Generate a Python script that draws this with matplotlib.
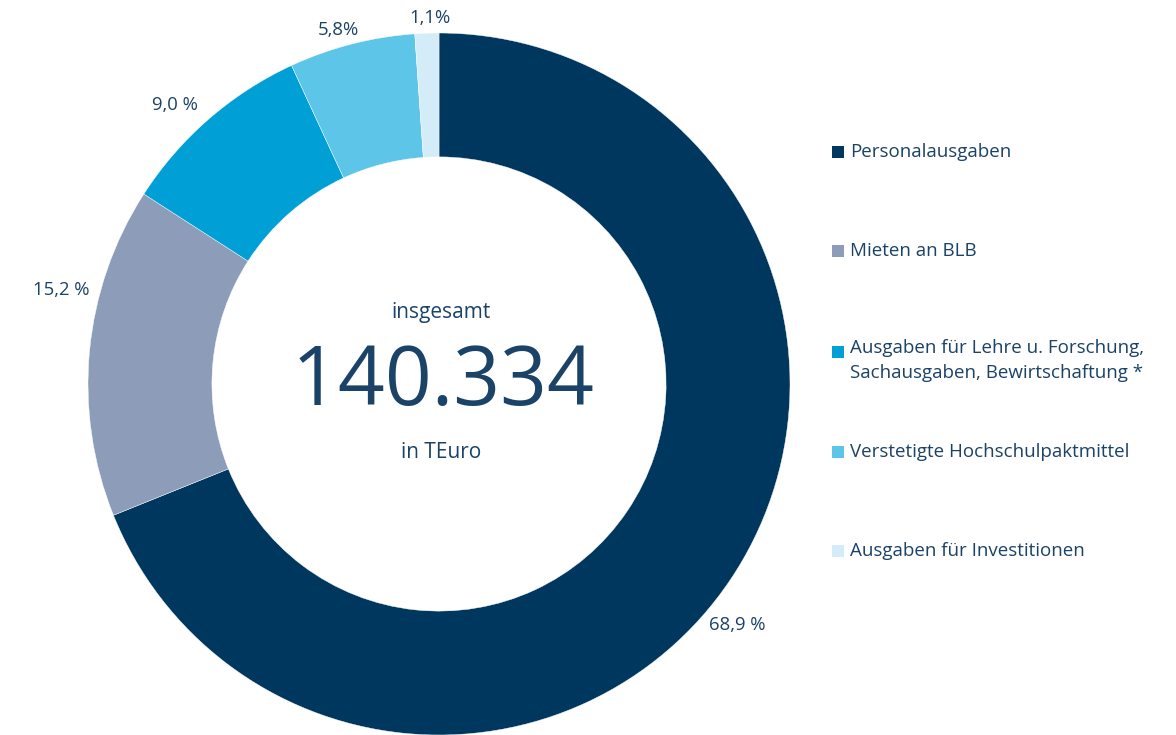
import matplotlib.pyplot as plt
from matplotlib.patches import Rectangle

categories = ['Personalausgaben', 'Mieten an BLB',
              'Ausgaben für Lehre u. Forschung,\nSachausgaben, Bewirtschaftung *',
              'Verstetigte Hochschulpaktmittel', 'Ausgaben für Investitionen']
shares = [68.9, 15.2, 9.0, 5.8, 1.1]
pct_labels = ['68,9 %', '15,2 %', '9,0 %', '5,8%', '1,1%']
colors = ['#00375e', '#8d9cb8', '#009fd6', '#5cc5e8', '#d4ebf8']
total_label = '140.334'

text_col = '#1b4267'
plt.rcParams['font.family'] = ['Open Sans', 'DejaVu Sans']

W, H = 1176, 735
fig = plt.figure(figsize=(W / 100, H / 100), dpi=100)
ax = fig.add_axes([0, 0, 1, 1])

# donut in pixel coordinates (y up)
cx, cy, r = 439, H - 384, 351
wedges, _ = ax.pie(shares, colors=colors, startangle=90, counterclock=False,
                   center=(cx, cy), radius=r,
                   wedgeprops=dict(width=r * 0.353, edgecolor='white', linewidth=0.3))
ax.set_xlim(0, W)
ax.set_ylim(0, H)
ax.set_aspect('equal')
ax.axis('off')

# percentage labels (hand placed like the original)
label_pos = [(737, 625), (61, 290), (175, 105), (338, 30), (430, 18)]
for txt, (x, y) in zip(pct_labels, label_pos):
    ax.text(x, H - y, txt, ha='center', va='center', fontsize=13.3, color=text_col)

# centre text
ax.text(cx + 2, H - 312, 'insgesamt', ha='center', va='center', fontsize=15, color=text_col)
ax.text(cx + 4, H - 384, total_label, ha='center', va='center', fontsize=59, color=text_col)
ax.text(cx + 2, H - 452, 'in TEuro', ha='center', va='center', fontsize=15, color=text_col)

# legend
leg_y = [152, 251, 352, 452, 551]
for w, name, y in zip(wedges, categories, leg_y):
    ax.add_patch(Rectangle((832, H - y - 6), 12, 12, facecolor=w.get_facecolor(),
                           edgecolor='none'))
    if '\n' in name:
        ax.text(850, H - y + 13, name, ha='left', va='top', fontsize=13.5,
                color=text_col, linespacing=1.5)
    else:
        ax.text(850, H - y, name, ha='left', va='center', fontsize=13.5, color=text_col)

fig.savefig('out.png', dpi=100)
